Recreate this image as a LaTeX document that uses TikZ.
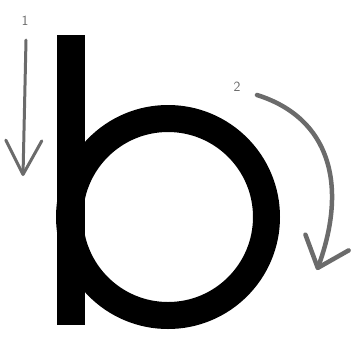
\documentclass[tikz,border=0pt]{standalone}
\usetikzlibrary{arrows.meta}
\begin{document}
\begin{tikzpicture}[x=1pt,y=-1pt,
  guide/.style={draw=black!58,line cap=round,line join=round},
  numlabel/.style={text=black!60,font=\fontsize{14}{14}\sffamily,inner sep=0pt}]
\useasboundingbox (0,0) rectangle (353,338);
% letter b
\fill[black] (57,35) rectangle (85,325);
\fill[black,even odd rule] (168,217) circle[radius=112] (168,217) circle[radius=85];
% stroke 1
\node[numlabel] (n1) at (25,21) {1};
\coordinate (s1) at (26,40);
\coordinate (e1) at (23,176);
\draw[guide,line width=3pt,-{Straight Barb[length=34pt,width=36pt,line cap=round,line join=round]}] (s1) -- (e1);
% stroke 2
\node[numlabel] (n2) at (237,87) {2};
\coordinate (s2) at (257,95);
\coordinate (e2) at (317,270);
\draw[guide,line width=4.5pt,-{Straight Barb[length=27pt,width=46pt,line cap=round,line join=round]}] (s2) .. controls (330,118) and (348,185) .. (e2);
\end{tikzpicture}
\end{document}
